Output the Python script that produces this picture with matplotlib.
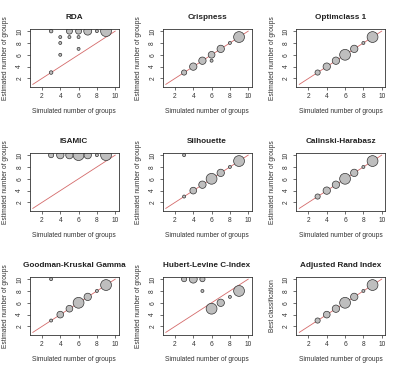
import matplotlib
matplotlib.use('Agg')
import matplotlib.pyplot as plt

plt.rcParams['font.family'] = ['Liberation Sans', 'DejaVu Sans']

titles = ["RDA", "Crispness", "Optimclass 1",
          "ISAMIC", "Silhouette", "Calinski-Harabasz",
          "Goodman-Kruskal Gamma", "Hubert-Levine C-Index", "Adjusted Rand Index"]
x_label = "Simulated number of groups"
y_labels = ["Estimated number of groups"] * 8 + ["Best classification"]
ticks = [2, 4, 6, 8, 10]

rda_sim = [3, 3, 4, 4, 4, 5, 5, 6, 6, 6, 7, 8, 9]
rda_est = [3, 10, 9, 8, 6, 9, 10, 10, 9, 7, 10, 10, 10]
rda_n = [1.4, 1.4, 1, 1, 1, 1, 4, 4, 1, 1, 7, 1, 13]

crisp_sim = [3, 4, 5, 6, 6, 7, 8, 9]
crisp_est = [3, 4, 5, 6, 5, 7, 8, 9]
crisp_n = [3, 6, 6, 5, 1, 6, 1, 13]

optim_sim = [3, 4, 5, 6, 7, 8, 9]
optim_est = [3, 4, 5, 6, 7, 8, 9]
optim_n = [3, 6, 6, 13, 6, 1, 13]

isamic_sim = [3, 4, 5, 6, 7, 8, 9]
isamic_est = [10, 10, 10, 10, 10, 10, 10]
isamic_n = [3, 6, 6, 13, 6, 1, 13]

silh_sim = [3, 3, 4, 5, 6, 7, 8, 9]
silh_est = [10, 3, 4, 5, 6, 7, 8, 9]
silh_n = [1, 1, 5, 6, 13, 6, 1, 13]

ch_sim = [3, 4, 5, 6, 7, 8, 9]
ch_est = [3, 4, 5, 6, 7, 8, 9]
ch_n = [3, 6, 6, 13, 6, 1, 13]

gk_sim = [3, 3, 4, 5, 6, 7, 8, 9]
gk_est = [10, 3, 4, 5, 6, 7, 8, 9]
gk_n = [1, 1, 5, 5, 13, 6, 1, 13]

hl_sim = [3, 4, 5, 5, 6, 7, 8, 9]
hl_est = [10, 10, 10, 8, 5, 6, 7, 8]
hl_n = [3, 7, 3, 1, 13, 6, 1, 13]

ari_sim = [3, 4, 5, 6, 7, 8, 9]
ari_est = [3, 4, 5, 6, 7, 8, 9]
ari_n = [3, 5, 6, 13, 6, 1, 13]

ref_line = [1, 10]

panels = [(rda_sim, rda_est, rda_n), (crisp_sim, crisp_est, crisp_n),
          (optim_sim, optim_est, optim_n), (isamic_sim, isamic_est, isamic_n),
          (silh_sim, silh_est, silh_n), (ch_sim, ch_est, ch_n),
          (gk_sim, gk_est, gk_n), (hl_sim, hl_est, hl_n),
          (ari_sim, ari_est, ari_n)]

W, H = 400, 370
fig = plt.figure(figsize=(W / 100, H / 100), dpi=100)
col_left = [29.5, 162.5, 296]
row_top = [29, 153, 277]
bw, bh = 89, 57.5

for i, (sim, est, n) in enumerate(panels):
    r, c = divmod(i, 3)
    ax = fig.add_axes([col_left[c] / W, 1 - (row_top[r] + bh) / H, bw / W, bh / H])
    ax.plot(ref_line, ref_line, color='#d46a6a', lw=0.6, zorder=1)
    sizes = [(3.0 * (v ** 0.5) * 0.72) ** 2 for v in n]
    ax.scatter(sim, est, s=sizes, facecolor='#bebebe', edgecolor='#333333',
               linewidths=0.5, zorder=2, clip_on=True)
    ax.set_xlim(0.64, 10.36)
    ax.set_ylim(0.64, 10.36)
    ax.set_xticks(ticks)
    ax.set_yticks(ticks)
    ax.tick_params(labelsize=4.8, length=2.5, width=0.5, pad=2, colors='#333333')
    for lbl in ax.get_yticklabels():
        lbl.set_rotation(90)
        lbl.set_va('center')
    for sp in ax.spines.values():
        sp.set_linewidth(0.6)
        sp.set_color('#333333')
    ax.set_title(titles[i], fontsize=5.9, fontweight='bold', pad=7, color='#222222')
    ax.set_xlabel(x_label, fontsize=4.8, labelpad=6, color='#333333')
    ax.set_ylabel(y_labels[i], fontsize=4.8, labelpad=5, color='#333333')

fig.savefig('out.png', dpi=100)
